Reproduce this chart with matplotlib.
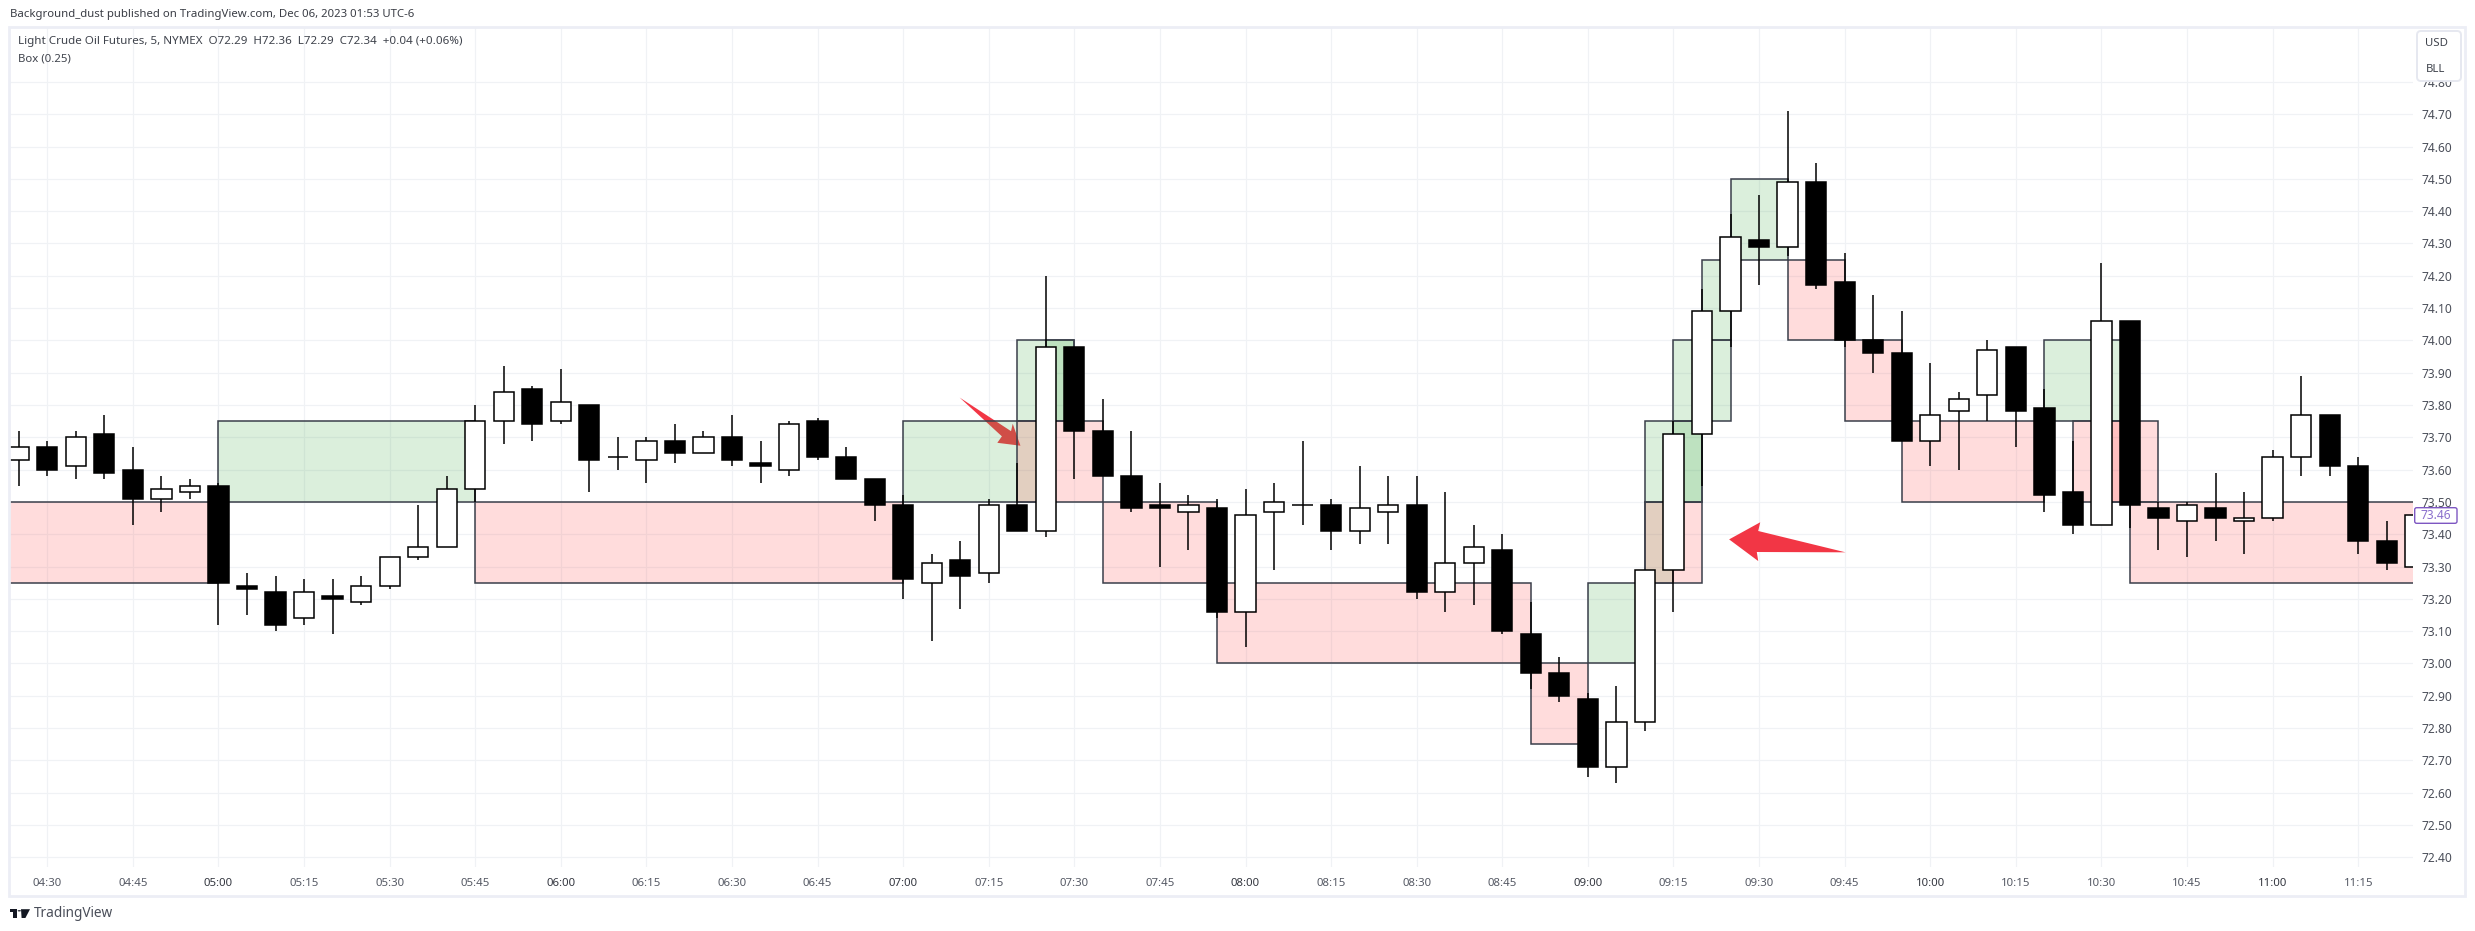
import matplotlib
matplotlib.use("Agg")
import matplotlib.pyplot as plt
from matplotlib.patches import Rectangle, Polygon, FancyBboxPatch, Circle
from matplotlib.transforms import IdentityTransform

W, H = 2475, 931
FONT = "Noto Sans"
plt.rcParams["font.family"] = [FONT, "DejaVu Sans"]

# ---- candle data (first bar is 04:25, 5 minute bars) ----
bar_open = [73.63,73.67,73.61,73.71,73.60,73.51,73.53,73.55,73.24,73.22,73.14,73.21,73.19,73.24,73.33,73.36,
            73.54,73.75,73.85,73.75,73.80,73.64,73.63,73.69,73.65,73.70,73.62,73.60,73.75,73.64,73.57,73.49,
            73.25,73.32,73.28,73.49,73.41,73.98,73.72,73.58,73.49,73.47,73.48,73.16,73.47,73.49,73.49,73.41,
            73.47,73.49,73.22,73.31,73.35,73.09,72.97,72.89,72.68,72.82,73.29,73.71,74.09,74.31,74.29,74.49,
            74.18,74.00,73.96,73.69,73.78,73.83,73.98,73.79,73.53,73.43,74.06,73.48,73.44,73.48,73.44,73.45,
            73.64,73.77,73.61,73.38,73.30]
bar_high = [73.72,73.69,73.72,73.77,73.67,73.58,73.57,73.56,73.28,73.27,73.26,73.26,73.27,73.33,73.49,73.58,
            73.80,73.92,73.86,73.91,73.80,73.70,73.70,73.74,73.72,73.77,73.69,73.75,73.76,73.67,73.57,73.52,
            73.34,73.38,73.51,73.62,74.20,73.98,73.82,73.72,73.56,73.52,73.51,73.54,73.56,73.69,73.51,73.61,
            73.58,73.58,73.53,73.43,73.40,73.19,73.02,72.91,72.93,73.29,73.75,74.16,74.39,74.45,74.71,74.55,
            74.27,74.14,74.09,73.93,73.84,74.00,73.98,73.85,73.69,74.24,74.06,73.50,73.50,73.59,73.53,73.66,
            73.89,73.77,73.64,73.44,73.46]
bar_low  = [73.55,73.58,73.57,73.57,73.43,73.47,73.51,73.12,73.15,73.10,73.12,73.09,73.18,73.23,73.32,73.36,
            73.50,73.68,73.69,73.74,73.53,73.60,73.56,73.62,73.65,73.61,73.56,73.58,73.63,73.57,73.44,73.20,
            73.07,73.17,73.25,73.41,73.39,73.57,73.58,73.47,73.30,73.35,73.14,73.05,73.29,73.43,73.35,73.37,
            73.37,73.20,73.16,73.18,73.09,72.92,72.88,72.65,72.63,72.79,73.16,73.55,73.98,74.17,74.26,74.16,
            73.98,73.90,73.69,73.61,73.60,73.75,73.67,73.47,73.40,73.43,73.42,73.35,73.33,73.38,73.34,73.44,
            73.58,73.58,73.34,73.29,73.30]
bar_close= [73.67,73.60,73.70,73.59,73.51,73.54,73.55,73.25,73.23,73.12,73.22,73.20,73.24,73.33,73.36,73.54,
            73.75,73.84,73.74,73.81,73.63,73.64,73.69,73.65,73.70,73.63,73.61,73.74,73.64,73.57,73.49,73.26,
            73.31,73.27,73.49,73.41,73.98,73.72,73.58,73.48,73.48,73.49,73.16,73.46,73.50,73.49,73.41,73.48,
            73.49,73.22,73.31,73.36,73.10,72.97,72.90,72.68,72.82,73.29,73.71,74.09,74.32,74.29,74.49,74.17,
            74.00,73.96,73.69,73.77,73.82,73.97,73.78,73.52,73.43,74.06,73.49,73.45,73.49,73.45,73.45,73.64,
            73.77,73.61,73.38,73.31,73.46]

# ---- box study data: first/last bar position, price band ----
box_start  = [-3, 6,15,30,34,35,34,37,41,52,54,56,56,56,57,57,58,59,61,63,65,70,71,72,73]
box_end    = [ 6,15,30,35,36,36,37,41,52,54,56,57,58,58,58,59,59,61,63,65,70,73,74,73,90]
box_bottom = [73.25,73.50,73.25,73.50,73.75,73.75,73.50,73.25,73.00,72.75,73.00,73.25,73.25,73.50,73.50,73.75,
              74.00,74.25,74.00,73.75,73.50,73.75,73.50,73.50,73.25]
box_top    = [73.50,73.75,73.50,73.75,74.00,74.00,73.75,73.50,73.25,73.00,73.25,73.50,73.50,73.75,73.75,74.00,
              74.25,74.50,74.25,74.00,73.75,74.00,73.75,73.75,73.50]
box_up     = [0,1,0,1,1,1,0,0,0,0,1,1,0,1,1,1,1,1,0,0,0,1,0,0,0]

# ---- axis labels ----
time_positions = list(range(0, 82, 3))
time_labels = ["04:30","04:45","05:00","05:15","05:30","05:45","06:00","06:15","06:30","06:45",
               "07:00","07:15","07:30","07:45","08:00","08:15","08:30","08:45","09:00","09:15",
               "09:30","09:45","10:00","10:15","10:30","10:45","11:00","11:15"]
price_ticks = [72.4,72.5,72.6,72.7,72.8,72.9,73.0,73.1,73.2,73.3,73.4,73.5,73.6,73.7,73.8,73.9,
               74.0,74.1,74.2,74.3,74.4,74.5,74.6,74.7,74.8]
last_price = 73.46

# ---- hand drawn arrows (bar position, price) ----
arrow_one = [(31.98,73.823),(33.78,73.719),(33.84,73.742),(34.11,73.674),(33.30,73.683),(33.46,73.703)]
arrow_two = [(58.95,73.384),(60.04,73.437),(59.97,73.410),(63.03,73.344),(59.92,73.345),(59.97,73.317)]

fig = plt.figure(figsize=(W/100, H/100), dpi=100, facecolor="white")
ax = fig.add_axes([10/W, 1-867/H, (2412.7-10)/W, (867-27)/H])
ax.set_xlim(-1.307, 82.91)
ax.set_ylim(72.37, 74.97)
for s in ax.spines.values():
    s.set_visible(False)
ax.set_axisbelow(True)
ax.grid(True, color="#f0f2f5", linewidth=0.85)

# arrows lie below the box fills so that the fills tint them
ax.add_patch(Polygon(arrow_one, closed=True, facecolor="#f23645", edgecolor="none", zorder=1.2))
ax.add_patch(Polygon(arrow_two, closed=True, facecolor="#f23645", edgecolor="none", zorder=1.2))

GREEN = (76/255, 175/255, 80/255, 0.2)
RED = (255/255, 82/255, 82/255, 0.2)
for a, b, lo, hi, up in zip(box_start, box_end, box_bottom, box_top, box_up):
    ax.add_patch(Rectangle((a, lo), b-a, hi-lo, facecolor=GREEN if up else RED,
                           edgecolor="#3a3f4a", linewidth=1.1, zorder=2, snap=True))

positions = list(range(-1, len(bar_open)-1))
ax.vlines(positions, bar_low, bar_high, color="black", linewidth=1.1, zorder=3)
bottoms = [min(o, c) for o, c in zip(bar_open, bar_close)]
heights = [abs(o-c) for o, c in zip(bar_open, bar_close)]
colors = ["white" if c >= o else "black" for o, c in zip(bar_open, bar_close)]
ax.bar(positions, heights, bottom=bottoms, width=0.71, color=colors, edgecolor="black",
       linewidth=1.1, zorder=4)

ax.set_xticks(time_positions)
ax.set_xticklabels(time_labels)
for lab, txt in zip(ax.get_xticklabels(), time_labels):
    if txt.endswith(":00"):
        lab.set_fontweight("bold"); lab.set_color("#33363f")
    else:
        lab.set_color("#555964")
    lab.set_fontsize(8.2)
ax.yaxis.tick_right()
ax.set_yticks(price_ticks)
ax.set_yticklabels([f"{p:.2f}" for p in price_ticks], fontsize=8.6, color="#4a4e59")
ax.tick_params(axis="both", length=0)
ax.tick_params(axis="x", pad=8)
ax.tick_params(axis="y", pad=6)

def fx(x): return x/W
def fy(y): return 1-y/H

def figrect(x0, y0, x1, y1, **kw):
    p = Rectangle((fx(x0), fy(y1)), fx(x1)-fx(x0), fy(y0)-fy(y1), transform=fig.transFigure, **kw)
    fig.add_artist(p)
    return p

def roundrect(x0, y0, x1, y1, r, **kw):
    p = FancyBboxPatch((x0, H-y1), x1-x0, y1-y0, boxstyle=f"round,pad=0,rounding_size={r}",
                       transform=IdentityTransform(), **kw)
    fig.add_artist(p)
    return p

figrect(9, 26.5, 2465, 896, facecolor="none", edgecolor="#eceef5", linewidth=2.0, zorder=6)

fig.text(fx(10), fy(15), "Background_dust published on TradingView.com, Dec 06, 2023 01:53 UTC-6",
         fontsize=8.2, color="#3a3d45", va="center")
fig.text(fx(18), fy(41.7), "Light Crude Oil Futures, 5, NYMEX  O72.29  H72.36  L72.29  C72.34  +0.04 (+0.06%)",
         fontsize=8.35, color="#3f434c", va="center")
fig.text(fx(18), fy(59), "Box (0.25)", fontsize=8.2, color="#3f434c", va="center")

# currency / unit button
roundrect(2417, 31, 2461, 81, 4, facecolor="white", edgecolor="#e6e8f0", linewidth=1.4, zorder=7)
fig.text(fx(2436), fy(43.7), "USD", fontsize=8.2, color="#3f434c", ha="center", va="center", zorder=8)
fig.text(fx(2436), fy(69.3), "BLL", fontsize=8.2, color="#3f434c", ha="center", va="center", zorder=8)

# last price tag
roundrect(2414.7, 507.7, 2457, 523.3, 2, facecolor="white", edgecolor="#7e57c2", linewidth=1.0, zorder=7)
fig.text(fx(2436), fy(515.2), f"{last_price:.2f}", fontsize=8.6, color="#8a6fcc", ha="center", va="center", zorder=8)

# TradingView mark
def figpoly(pts):
    fig.add_artist(Polygon([(fx(x), fy(y)) for x, y in pts], closed=True, transform=fig.transFigure,
                           facecolor="#131722", edgecolor="none", zorder=7))
figpoly([(10.3,909.2),(17,909.2),(17,918),(13.4,918),(13.4,912.4),(10.3,912.4)])
figpoly([(21,909.2),(30,909.2),(25.4,918),(21.6,918)])
fig.add_artist(Circle((fx(19.3), fy(910.8)), 1.7/W, transform=fig.transFigure, facecolor="#131722", edgecolor="none", zorder=7))
fig.text(fx(34), fy(913.6), "TradingView", fontsize=9.8, color="#4a4e59", va="center")

fig.savefig("out.png", dpi=100, facecolor="white")
